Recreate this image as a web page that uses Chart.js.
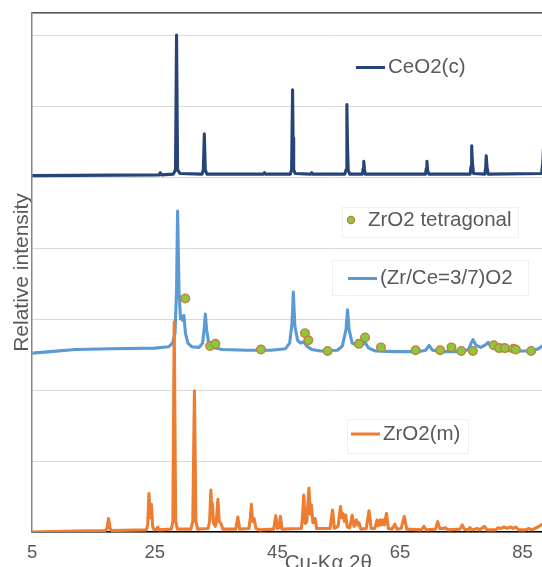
<!DOCTYPE html>
<html>
<head>
<meta charset="utf-8">
<script src="https://cdn.jsdelivr.net/npm/chart.js@4/dist/chart.umd.min.js"></script>
<style>
  html, body { margin: 0; padding: 0; background: #fff; overflow: hidden; }
  #wrap { width: 542px; height: 567px; overflow: hidden; position: relative; }
  canvas { display: block; }
</style>
</head>
<body>
<div id="wrap"><canvas id="xrd" width="630" height="576"></canvas></div>
<script>
// x = 2θ (deg), y = relative intensity (patterns stacked with offsets)
const xTicks = [5, 25, 45, 65, 85];

const ceo2 = [
  [5, 5.02], [25.7, 5.03], [25.9, 5.06], [26.1, 5.03], [28.0, 5.04], [28.38, 5.1], [28.55, 7.0],
  [28.72, 5.1], [29.1, 5.05], [32.7, 5.04], [32.92, 5.1], [33.08, 5.61], [33.24, 5.1], [33.5, 5.04],
  [42.7, 5.04], [42.9, 5.06], [43.1, 5.04], [47.1, 5.04], [47.32, 5.1], [47.48, 6.23], [47.56, 5.55],
  [47.66, 5.1], [47.9, 5.05], [50.4, 5.04], [50.6, 5.06], [50.8, 5.04], [56.0, 5.04], [56.2, 5.1],
  [56.34, 6.02], [56.43, 5.5], [56.55, 5.1], [56.8, 5.04], [58.85, 5.04], [59.0, 5.12], [59.09, 5.22],
  [59.2, 5.12], [59.35, 5.04], [69.15, 5.04], [69.3, 5.12], [69.4, 5.22], [69.5, 5.1], [69.7, 5.04],
  [76.45, 5.04], [76.6, 5.15], [76.7, 5.44], [76.82, 5.2], [77.0, 5.05], [78.85, 5.04], [79.0, 5.15],
  [79.07, 5.3], [79.2, 5.14], [79.4, 5.04], [88.1, 5.05], [88.3, 5.2], [88.4, 5.39], [88.55, 5.2],
  [88.8, 5.05], [90, 5.04]
];

const zrce = [
  [5, 2.52], [8, 2.54], [12, 2.57], [18, 2.58], [25, 2.59], [27.3, 2.61], [27.9, 2.66], [28.3, 2.8],
  [28.55, 3.4], [28.72, 4.52], [28.95, 3.4], [29.2, 3.0], [29.35, 3.04], [29.55, 2.98], [29.75, 3.05],
  [30.0, 2.8], [30.4, 2.66], [31.0, 2.61], [32.2, 2.6], [32.8, 2.66], [33.1, 2.9], [33.25, 3.07],
  [33.45, 2.85], [33.8, 2.66], [34.5, 2.6], [36, 2.57], [40, 2.56], [44, 2.56], [46.3, 2.58],
  [47.0, 2.66], [47.4, 2.95], [47.6, 3.38], [47.85, 2.9], [48.3, 2.7], [48.8, 2.66], [49.3, 2.68],
  [49.8, 2.62], [50.6, 2.57], [52, 2.55], [54.8, 2.56], [55.6, 2.62], [56.2, 2.85], [56.45, 3.13],
  [56.7, 2.85], [57.2, 2.66], [58, 2.63], [58.8, 2.63], [59.3, 2.67], [59.9, 2.59], [61, 2.55],
  [64, 2.54], [68, 2.54], [69.2, 2.56], [69.75, 2.63], [70.3, 2.56], [72, 2.54], [75, 2.54],
  [76.2, 2.57], [76.6, 2.66], [76.9, 2.71], [77.4, 2.63], [78.2, 2.6], [79.0, 2.64], [79.4, 2.67],
  [79.9, 2.6], [81, 2.56], [84, 2.55], [86.5, 2.55], [87.6, 2.58], [88.2, 2.62], [88.8, 2.6], [90, 2.55]
];

const zro2Tetragonal = [
  [29.97, 3.29], [34.03, 2.62], [34.88, 2.65], [42.32, 2.57], [49.5, 2.8], [50.06, 2.7], [53.2, 2.55],
  [58.3, 2.65], [59.3, 2.74], [61.9, 2.6], [67.55, 2.56], [71.56, 2.56], [73.4, 2.6], [75.0, 2.55],
  [76.9, 2.55], [80.3, 2.63], [81.2, 2.59], [82.1, 2.59], [83.5, 2.58], [83.9, 2.57], [86.4, 2.55]
];

const zro2m = [
  [5, 0.0], [10, 0.01], [16.9, 0.02], [17.2, 0.05], [17.45, 0.19], [17.7, 0.05], [18.0, 0.02],
  [23.6, 0.03], [23.85, 0.1], [24.05, 0.54], [24.25, 0.2], [24.45, 0.39], [24.65, 0.08], [24.9, 0.03],
  [25.3, 0.04], [25.5, 0.07], [25.7, 0.03], [27.7, 0.04], [27.95, 0.15], [28.17, 2.96], [28.4, 0.15],
  [28.7, 0.04], [30.9, 0.04], [31.2, 0.15], [31.47, 1.99], [31.7, 0.15], [32.0, 0.04], [33.7, 0.05],
  [33.95, 0.15], [34.15, 0.59], [34.3, 0.3], [34.4, 0.4], [34.6, 0.12], [34.9, 0.08], [35.05, 0.15],
  [35.3, 0.46], [35.5, 0.15], [35.8, 0.12], [36.1, 0.04], [38.2, 0.04], [38.55, 0.21], [38.85, 0.04],
  [40.35, 0.05], [40.6, 0.2], [40.75, 0.39], [40.95, 0.15], [41.2, 0.19], [41.5, 0.05], [42, 0.03],
  [44.4, 0.04], [44.75, 0.23], [45.0, 0.05], [45.25, 0.06], [45.5, 0.22], [45.75, 0.04], [48.9, 0.05],
  [49.1, 0.2], [49.3, 0.52], [49.55, 0.12], [49.8, 0.15], [50.15, 0.62], [50.35, 0.25], [50.55, 0.38],
  [50.8, 0.13], [51.15, 0.19], [51.4, 0.05], [53.6, 0.05], [54.0, 0.31], [54.3, 0.05], [54.9, 0.08],
  [55.3, 0.36], [55.5, 0.2], [55.7, 0.26], [55.95, 0.15], [56.15, 0.24], [56.4, 0.07], [56.8, 0.06],
  [57.2, 0.235], [57.5, 0.08], [57.9, 0.17], [58.1, 0.1], [58.3, 0.13], [58.6, 0.04], [59.5, 0.05],
  [59.95, 0.3], [60.3, 0.05], [60.9, 0.05], [61.27, 0.17], [61.5, 0.09], [61.8, 0.17], [62.0, 0.1],
  [62.2, 0.17], [62.45, 0.1], [62.8, 0.26], [63.1, 0.05], [63.7, 0.04], [64.15, 0.11], [64.5, 0.04],
  [65.2, 0.05], [65.7, 0.22], [66.1, 0.04], [68.5, 0.03], [68.9, 0.08], [69.3, 0.03], [70.8, 0.04],
  [71.15, 0.145], [71.5, 0.05], [72.0, 0.05], [72.4, 0.06], [72.8, 0.03], [74.8, 0.04], [75.15, 0.1],
  [75.5, 0.04], [76.1, 0.03], [76.4, 0.06], [76.8, 0.03], [77.6, 0.05], [78.0, 0.03], [78.8, 0.08],
  [79.2, 0.03], [80.6, 0.03], [81.0, 0.06], [81.5, 0.05], [82.0, 0.07], [82.5, 0.05], [83.0, 0.07],
  [83.5, 0.05], [83.9, 0.07], [84.4, 0.03], [85.5, 0.03], [86.0, 0.05], [86.5, 0.03], [87.5, 0.07],
  [88.2, 0.11], [89, 0.12], [90, 0.08]
];

const DARK = '#264478', LIGHT = '#5B9BD5', ORANGE = '#ED7D31';
const DOT_FILL = '#8DC63F', DOT_EDGE = '#C5803A';
const TXT = '#595959';
const FONT = '"Liberation Sans", Arial, sans-serif';

const pts = arr => arr.map(([x, y]) => ({ x, y }));

function lineSet(label, arr, color, order) {
  return {
    label, data: pts(arr), borderColor: color, backgroundColor: color,
    borderWidth: 3.1, pointRadius: 0, tension: 0, fill: false,
    borderJoinStyle: 'round', order
  };
}

// legend boxes sit inside the plot, one per pattern
const legends = [
  { kind: 'line', color: DARK, x: 356, y: 67.5, text: 'CeO2(c)' },
  { kind: 'dot', x: 351, y: 220, text: 'ZrO2 tetragonal', box: [342, 207, 518, 237] },
  { kind: 'line', color: LIGHT, x: 348, y: 278.5, text: '(Zr/Ce=3/7)O2', box: [332, 260, 528, 295] },
  { kind: 'line', color: ORANGE, x: 351, y: 434, text: 'ZrO2(m)', box: [347, 419, 468, 453] }
];

const legendPlugin = {
  id: 'insideLegends',
  afterDatasetsDraw(chart) {
    const ctx = chart.ctx;
    ctx.save();
    ctx.font = '20.5px ' + FONT;
    ctx.textBaseline = 'middle';
    for (const l of legends) {
      if (l.box) {
        ctx.strokeStyle = '#F0F0F0';
        ctx.lineWidth = 1;
        ctx.strokeRect(l.box[0] + 0.5, l.box[1] + 0.5, l.box[2] - l.box[0], l.box[3] - l.box[1]);
      }
      let tx;
      if (l.kind === 'line') {
        ctx.strokeStyle = l.color;
        ctx.lineWidth = 3;
        ctx.beginPath();
        ctx.moveTo(l.x, l.y);
        ctx.lineTo(l.x + 29, l.y);
        ctx.stroke();
        tx = l.x + 32;
      } else {
        ctx.fillStyle = DOT_FILL;
        ctx.strokeStyle = DOT_EDGE;
        ctx.lineWidth = 1.2;
        ctx.beginPath();
        ctx.arc(l.x, l.y, 3.6, 0, Math.PI * 2);
        ctx.fill();
        ctx.stroke();
        tx = l.x + 17;
      }
      ctx.fillStyle = TXT;
      ctx.fillText(l.text, tx, l.y);
    }
    ctx.restore();
  }
};

new Chart(document.getElementById('xrd'), {
  type: 'line',
  data: {
    datasets: [
      {
        label: 'ZrO2 tetragonal', type: 'scatter', data: pts(zro2Tetragonal), showLine: false,
        pointRadius: 4.3, pointBackgroundColor: DOT_FILL, pointBorderColor: DOT_EDGE,
        pointBorderWidth: 1.4, order: 0
      },
      lineSet('ZrO2(m)', zro2m, ORANGE, 1),
      lineSet('(Zr/Ce=3/7)O2', zrce, LIGHT, 2),
      lineSet('CeO2(c)', ceo2, DARK, 3)
    ]
  },
  options: {
    responsive: false,
    animation: false,
    layout: { padding: { top: 13, left: 0, right: 0, bottom: 0 } },
    plugins: { legend: { display: false }, tooltip: { enabled: false } },
    scales: {
      x: {
        type: 'linear', position: 'bottom', min: 5, max: 101.6,
        afterBuildTicks: s => { s.ticks = xTicks.map(v => ({ value: v })); },
        grid: { display: false, drawTicks: false },
        border: { color: '#000', width: 1.5 },
        ticks: { color: TXT, padding: 10, font: { family: FONT, size: 18.5 } },
        title: {
          display: true, text: 'Cu-Kα 2θ', color: TXT,
          font: { family: FONT, size: 20.5 }, padding: { top: -22.8, bottom: 0 }
        }
      },
      xTop: {
        type: 'linear', position: 'top', min: 5, max: 101.6,
        grid: { display: false, drawTicks: false },
        ticks: { display: false },
        border: { color: '#595959', width: 1.5 }
      },
      y: {
        min: 0, max: 7.31,
        ticks: { display: false, stepSize: 1 },
        grid: { color: '#D9D9D9', lineWidth: 1, drawTicks: false },
        border: { color: '#868686', width: 1.5 },
        title: {
          display: true, text: 'Relative intensity', color: TXT,
          font: { family: FONT, size: 21 }, padding: { top: 9.5, bottom: -2.5 }
        }
      }
    }
  },
  plugins: [legendPlugin]
});
</script>
</body>
</html>
